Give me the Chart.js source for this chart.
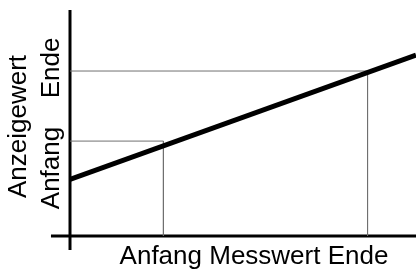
<!DOCTYPE html>
<html>
<head>
<meta charset="utf-8">
<script src="https://cdn.jsdelivr.net/npm/chart.js@4/dist/chart.umd.min.js"></script>
<style>
  html, body { margin: 0; padding: 0; background: #fff; }
  #wrap { width: 416px; height: 271px; }
</style>
</head>
<body>
<div id="wrap"><canvas id="kennlinie"></canvas></div>
<script>
// Werte (Achsen laufen jeweils 0..10)
var messLabels = ["Anfang", "Ende"];
var messWerte = [2.7, 8.6];      // Messwert Anfang / Ende
var anzeigeWerte = [4.2, 7.3];   // Anzeigewert Anfang / Ende
var kennX = [0, 10];
var kennY = [2.5, 8.0];
var xAchse = [-0.55, 10];        // x-Achse ragt links ueber den Ursprung
var yAchse = [-0.62, 10];        // y-Achse ragt unten ueber den Ursprung

function pts(xs, ys) {
  var out = [];
  xs.forEach(function (x, i) { out.push({x: x, y: ys[i]}); });
  return out;
}

var datasets = [];
// Kennlinie (oben)
datasets.push({
  data: pts(kennX, kennY),
  borderColor: "#000",
  borderWidth: 5,
  pointRadius: 0
});
// Hilfslinien Anfang / Ende
messWerte.forEach(function (mx, i) {
  datasets.push({
    data: pts([0, mx, mx], [anzeigeWerte[i], anzeigeWerte[i], 0]),
    borderColor: "#707070",
    borderWidth: 1,
    pointRadius: 0
  });
});
// Achsen
datasets.push({
  data: pts(xAchse, [0, 0]),
  borderColor: "#000",
  borderWidth: 3,
  pointRadius: 0,
  clip: false
});
datasets.push({
  data: pts([0, 0], yAchse),
  borderColor: "#000",
  borderWidth: 3,
  pointRadius: 0,
  clip: false
});

var FONT = '26px "Liberation Sans", Arial, sans-serif';

var beschriftung = {
  id: "beschriftung",
  afterDraw: function (chart) {
    var ctx = chart.ctx;
    var xs = chart.scales.x, ys = chart.scales.y;
    ctx.save();
    ctx.fillStyle = "#000";
    ctx.font = FONT;
    ctx.textBaseline = "alphabetic";
    ctx.textAlign = "center";
    // x-Achsentitel
    ctx.fillText(messLabels[0] + " Messwert " + messLabels[1], 254, 264);
    // y-Achsentitel
    ctx.save();
    ctx.translate(26, 126.5);
    ctx.rotate(-Math.PI / 2);
    ctx.fillText("Anzeigewert", 0, 0);
    ctx.restore();
    ctx.save();
    ctx.translate(59, 168);
    ctx.rotate(-Math.PI / 2);
    ctx.fillText(messLabels[0], 0, 0);
    ctx.restore();
    ctx.save();
    ctx.translate(59, 68);
    ctx.rotate(-Math.PI / 2);
    ctx.fillText(messLabels[1], 0, 0);
    ctx.restore();
    ctx.restore();
  }
};

new Chart(document.getElementById("kennlinie"), {
  type: "line",
  data: { datasets: datasets },
  options: {
    responsive: true,
    maintainAspectRatio: false,
    animation: false,
    layout: { padding: { left: 70, right: 0, top: 10, bottom: 35 } },
    plugins: { legend: { display: false }, tooltip: { enabled: false } },
    scales: {
      x: { type: "linear", min: 0, max: 10, display: false },
      y: { type: "linear", min: 0, max: 10, display: false }
    }
  },
  plugins: [beschriftung]
});
</script>
</body>
</html>
